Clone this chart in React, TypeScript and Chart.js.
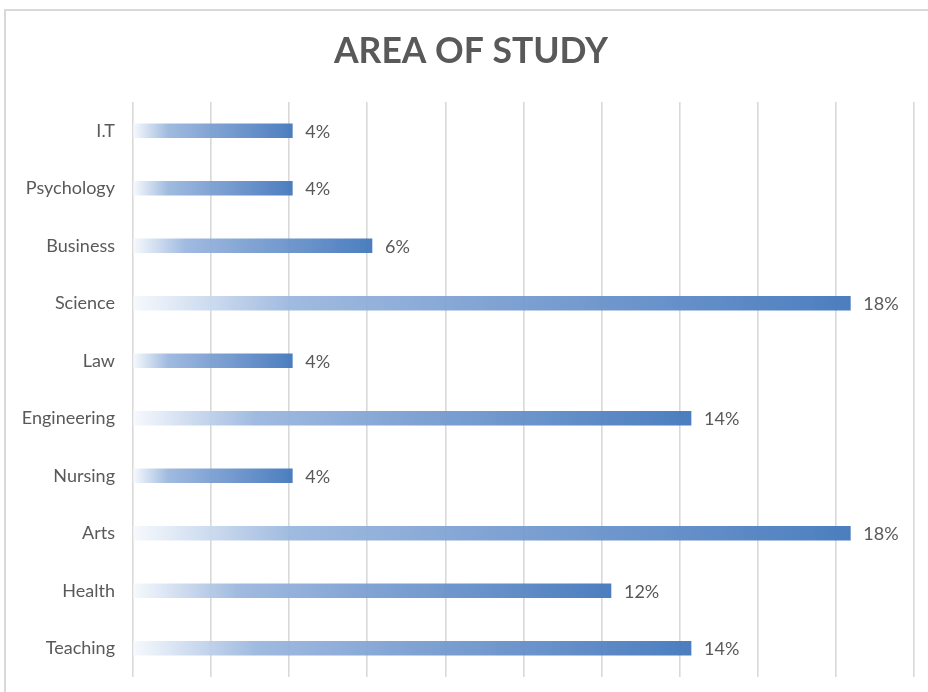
import React, { useEffect, useRef } from "react";
import { Chart, registerables } from "chart.js";

Chart.register(...registerables);

const TITLE = "AREA OF STUDY";
const categories = ["I.T", "Psychology", "Business", "Science", "Law", "Engineering", "Nursing", "Arts", "Health", "Teaching"];
const percentages = [4.08, 4.08, 6.12, 18.37, 4.08, 14.29, 4.08, 18.37, 12.24, 14.29];
const valueLabels = ["4%", "4%", "6%", "18%", "4%", "14%", "4%", "18%", "12%", "14%"];
const axisMin = 0;
const axisMax = 20;
const axisStep = 2;

const FONT = "Lato, 'Open Sans', sans-serif";
const TEXT_COLOR = "#595959";
const GRID_COLOR = "#d9d9d9";

const titlePlugin = {
  id: "centeredTitle",
  afterDraw(chart: any) {
    const { ctx } = chart;
    ctx.save();
    ctx.font = `bold 35.5px ${FONT}`;
    ctx.fillStyle = TEXT_COLOR;
    ctx.textAlign = "center";
    ctx.textBaseline = "middle";
    ctx.fillText(TITLE, 471, 52);
    ctx.restore();
  },
};

const dataLabelPlugin = {
  id: "dataLabels",
  afterDatasetsDraw(chart: any) {
    const { ctx } = chart;
    const meta = chart.getDatasetMeta(0);
    ctx.save();
    ctx.font = `18px ${FONT}`;
    ctx.fillStyle = TEXT_COLOR;
    ctx.textAlign = "left";
    ctx.textBaseline = "middle";
    meta.data.forEach((bar: any, i: number) => {
      ctx.fillText(valueLabels[i], bar.x + 13, bar.y + 1);
    });
    ctx.restore();
  },
};

export default function App() {
  const canvasRef = useRef<HTMLCanvasElement | null>(null);

  useEffect(() => {
    if (!canvasRef.current) return;
    const chart = new Chart(canvasRef.current, {
      type: "bar",
      data: {
        labels: categories,
        datasets: [
          {
            data: percentages,
            barThickness: 14,
            borderWidth: 0,
            backgroundColor: (context: any) => {
              const c = context.chart;
              const area = c.chartArea;
              if (!area || context.dataIndex === undefined) return "#4f81bd";
              const v = percentages[context.dataIndex];
              const x0 = c.scales.x.getPixelForValue(0);
              const x1 = c.scales.x.getPixelForValue(v);
              const g = c.ctx.createLinearGradient(x0, 0, x1, 0);
              g.addColorStop(0, "rgba(246,249,253,0.95)");
              g.addColorStop(0.22, "rgba(155,183,222,0.95)");
              g.addColorStop(0.5, "rgba(122,158,209,0.95)");
              g.addColorStop(1, "rgba(70,122,189,0.97)");
              return g;
            },
          },
        ],
      },
      options: {
        indexAxis: "y",
        animation: false,
        responsive: false,
        maintainAspectRatio: false,
        layout: { padding: { left: 0, right: 14, top: 102, bottom: 15 } },
        plugins: {
          legend: { display: false },
          tooltip: { enabled: false },
          title: { display: false },
        },
        scales: {
          x: {
            min: axisMin,
            max: axisMax,
            ticks: { display: false, stepSize: axisStep },
            grid: { color: GRID_COLOR, lineWidth: 1.6, drawTicks: false },
            border: { display: false },
            afterFit: (scale: any) => {
              scale.height = 0;
              scale.paddingLeft = 0;
              scale.paddingRight = 0;
              scale.paddingTop = 0;
              scale.paddingBottom = 0;
            },
          },
          y: {
            ticks: { color: TEXT_COLOR, font: { family: FONT, size: 18 }, padding: 18 },
            grid: { display: false, drawTicks: false },
            border: { display: false },
            afterFit: (scale: any) => {
              scale.width = 133;
              scale.paddingTop = 0;
              scale.paddingBottom = 0;
              scale.paddingLeft = 0;
              scale.paddingRight = 0;
            },
          },
        },
      },
      plugins: [dataLabelPlugin, titlePlugin],
    });
    return () => chart.destroy();
  }, []);

  return (
    <div style={{ position: "fixed", left: 0, top: 0, width: 928, height: 692, background: "#fff", overflow: "hidden" }}>
      <div
        style={{
          position: "absolute",
          left: 4,
          top: 9,
          width: 1000,
          height: 1000,
          border: "2px solid #d9d9d9",
          boxSizing: "border-box",
        }}
      />
      <canvas ref={canvasRef} width={928} height={692} style={{ position: "absolute", left: 0, top: 0, width: 928, height: 692 }} />
    </div>
  );
}
